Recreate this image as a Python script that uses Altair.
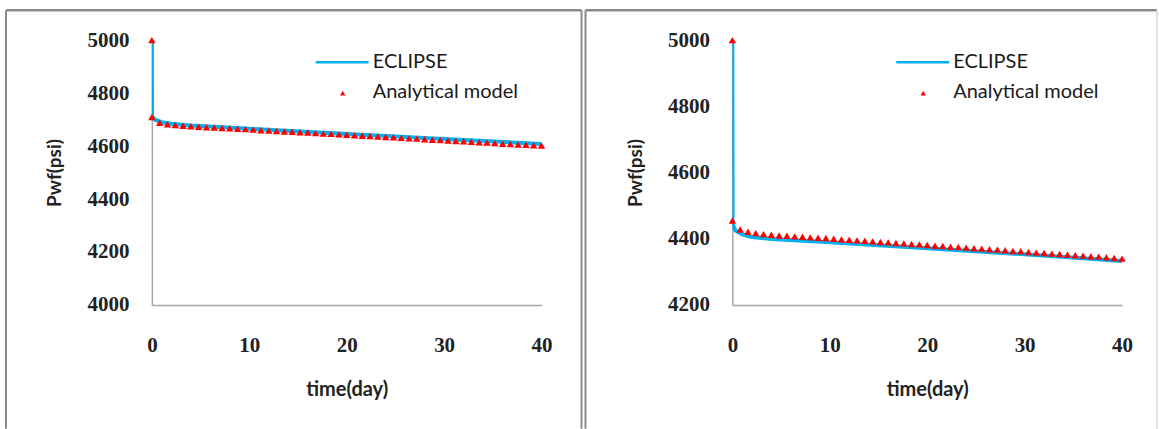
import altair as alt
import pandas as pd

# ---------------- data ----------------
x_title = "time(day)"
y_title = "Pwf(psi)"
legend_labels = ["ECLIPSE", "Analytical model"]
x_ticks = [0, 10, 20, 30, 40]
y1_ticks = [4000, 4200, 4400, 4600, 4800, 5000]
y2_ticks = [4200, 4400, 4600, 4800, 5000]
y1_domain = [4000, 5000]
y2_domain = [4200, 5000]

# ECLIPSE simulation curves
ecl_t = [0, 0.02, 0.3, 1, 2, 4, 10, 20, 30, 40]
ecl1_p = [5000, 4712, 4700, 4690, 4684, 4678, 4665, 4646, 4627, 4608]
ecl2_p = [5000, 4445, 4425, 4413, 4405, 4399, 4389, 4371, 4353, 4333]

# Analytical model points
ana_t = [0, 0, 0.8, 1.6, 2.4, 3.2, 4.0, 4.8, 5.6, 6.4, 7.2, 8.0, 8.8, 9.6, 10.4,
         11.2, 12.0, 12.8, 13.6, 14.4, 15.2, 16.0, 16.8, 17.6, 18.4, 19.2, 20.0,
         20.8, 21.6, 22.4, 23.2, 24.0, 24.8, 25.6, 26.4, 27.2, 28.0, 28.8, 29.6,
         30.4, 31.2, 32.0, 32.8, 33.6, 34.4, 35.2, 36.0, 36.8, 37.6, 38.4, 39.2, 40.0]
ana1_p = [5000, 4710, 4688, 4682, 4679, 4677, 4675, 4673, 4671, 4670, 4668, 4667,
          4665, 4664, 4662, 4660, 4659, 4657, 4655, 4654, 4652, 4651, 4649, 4647,
          4646, 4644, 4643, 4641, 4639, 4638, 4636, 4634, 4633, 4631, 4629, 4628,
          4626, 4624, 4623, 4621, 4619, 4618, 4616, 4614, 4613, 4611, 4609, 4608,
          4606, 4605, 4603, 4602]
ana2_p = [5000, 4455, 4428, 4421, 4417, 4414, 4412, 4410, 4409, 4407, 4406, 4404,
          4403, 4402, 4400, 4398, 4397, 4395, 4394, 4392, 4390, 4389, 4387, 4386,
          4384, 4383, 4381, 4379, 4378, 4376, 4375, 4373, 4371, 4370, 4368, 4367,
          4365, 4363, 4362, 4360, 4358, 4357, 4355, 4354, 4352, 4350, 4349, 4347,
          4346, 4344, 4342, 4340]

BLUE = "#00B0F0"
RED = "#FF0000"
FRAME = "#8A8A8A"
AXIS = "#A6A6A6"
W, H = 390, 265


def panel(ecl_p, ana_p, ydom, yticks, frame_left, frame_right, right_color):
    ecl = pd.DataFrame({"t": ecl_t, "p": ecl_p})
    ana = pd.DataFrame({"t": ana_t, "p": ana_p})

    xenc = alt.X("t:Q",
                 scale=alt.Scale(domain=[0, 40], nice=False, zero=False),
                 axis=alt.Axis(values=x_ticks, title=x_title, grid=False, ticks=False,
                               labelPadding=30, domainColor=AXIS, domainWidth=1.5,
                               labelFont="Liberation Serif", labelFontWeight="bold",
                               labelFontSize=21, labelColor="#222222", labelFlush=False,
                               titleFont="Lato", titleFontSize=20, titleFontWeight="bold",
                               titleColor="#222222", titlePadding=24))
    yenc = alt.Y("p:Q",
                 scale=alt.Scale(domain=ydom, nice=False, zero=False),
                 axis=alt.Axis(values=yticks, title=y_title, grid=False, ticks=False,
                               format="d",
                               labelPadding=23, domainColor=AXIS, domainWidth=1.5,
                               labelFont="Liberation Serif", labelFontWeight="bold",
                               labelFontSize=21, labelColor="#222222", labelFlush=False,
                               titleFont="Lato", titleFontSize=19, titleFontWeight="bold",
                               titleColor="#222222", titlePadding=22))

    line = alt.Chart(ecl).mark_line(color=BLUE, strokeWidth=4, clip=True).encode(
        x=xenc, y=yenc)
    pts = alt.Chart(ana).mark_point(shape="triangle-up", filled=True, color=RED,
                                    size=55, opacity=1).encode(x="t:Q", y="p:Q")

    one = pd.DataFrame({"k": [0]})
    base = alt.Chart(one)
    deco = [
        base.mark_rule(color=FRAME, strokeWidth=2.5).encode(
            x=alt.value(frame_left), x2=alt.value(frame_right), y=alt.value(-30)),
        base.mark_rule(color=FRAME, strokeWidth=2).encode(
            x=alt.value(frame_left), y=alt.value(-30), y2=alt.value(389)),
        base.mark_rule(color=right_color, strokeWidth=2).encode(
            x=alt.value(frame_right), y=alt.value(-30), y2=alt.value(389)),
        # legend
        base.mark_rule(color=BLUE, strokeWidth=2.5).encode(
            x=alt.value(164), x2=alt.value(217), y=alt.value(22)),
        base.mark_point(shape="triangle-up", filled=True, color=RED, size=28,
                        opacity=1).encode(x=alt.value(191), y=alt.value(53)),
        base.mark_text(text=legend_labels[0], align="left", baseline="middle",
                       font="Lato", fontSize=20, color="#1a1a1a").encode(
            x=alt.value(221), y=alt.value(22)),
        base.mark_text(text=legend_labels[1], align="left", baseline="middle",
                       font="Lato", fontSize=20, color="#1a1a1a").encode(
            x=alt.value(221), y=alt.value(52)),
    ]
    return alt.layer(line, pts, *deco).properties(width=W, height=H)


left = panel(ecl1_p, ana1_p, y1_domain, y1_ticks, -146, 430, FRAME)
right = panel(ecl2_p, ana2_p, y2_domain, y2_ticks, -147, 425, "#E0E0E0")

chart = alt.hconcat(left, right, spacing=191, bounds="flush").properties(
    padding={"left": 4, "top": 8, "right": 0, "bottom": 0},
    background="white",
).configure_view(stroke=None)

chart.save("out.html", embed_options={"renderer": "svg", "actions": False})
